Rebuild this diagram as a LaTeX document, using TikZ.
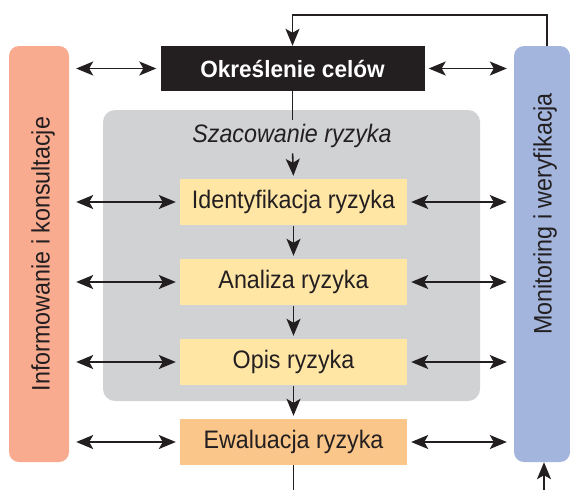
\documentclass[tikz,border=0pt]{standalone}
\usepackage{fontspec}
\setmainfont{Liberation Sans}[FakeStretch=0.92]
\newfontfamily\goalfont{Liberation Sans}[FakeStretch=0.96]
\usetikzlibrary{arrows.meta}

\definecolor{inkc}{HTML}{231F20}
\definecolor{pinkc}{HTML}{F8AB8F}
\definecolor{bluec}{HTML}{A3B5DC}
\definecolor{grayc}{HTML}{D1D2D4}
\definecolor{yellowc}{HTML}{FFE6A5}
\definecolor{orangec}{HTML}{FBC68A}

\newcommand\diagfont{\fontsize{25.3}{30}\selectfont}

\tikzset{
  sidebar/.style={draw=none, rounded corners=10pt, inner sep=0pt},
  stepbox/.style={fill=yellowc, draw=none, inner sep=0pt,
    minimum width=227pt, minimum height=46pt, text=inkc, font=\diagfont},
  goalbox/.style={fill=inkc, draw=none, inner sep=0pt,
    minimum width=264pt, minimum height=45pt, text=white,
    font=\goalfont\fontsize{23.5}{27}\selectfont\bfseries},
  barlabel/.style={rotate=90, text=inkc, font=\diagfont, inner sep=0pt},
  conn/.style={draw=inkc, line width=1.6pt},
  tip/.style={conn, -{Stealth[length=17pt,width=14pt,inset=4pt]}},
  twotip/.style={conn, {Stealth[length=17pt,width=14pt,inset=4pt]}-{Stealth[length=17pt,width=14pt,inset=4pt]}},
}

\begin{document}
\begin{tikzpicture}[x=1pt, y=-1pt]
\useasboundingbox (0,0) rectangle (570,490);

% side bars
\node[sidebar, fill=pinkc, minimum width=60pt, minimum height=416pt] (info) at (39,254) {};
\node[sidebar, fill=bluec, minimum width=56pt, minimum height=416pt] (mon) at (542,254) {};
\node[barlabel] (infolabel) at (43,254) {Informowanie i konsultacje};
\node[barlabel] (monlabel) at (545,214) {Monitoring i weryfikacja};

% risk assessment area
\fill[grayc, rounded corners=12pt] (103,110) rectangle (480,401);
\node[font=\diagfont\itshape, text=inkc, inner sep=3pt, anchor=base] (assess) at (292,142) {Szacowanie ryzyka};

% process steps
\node[goalbox] (goal) at (292.5,68.5) {Określenie celów};
\node[stepbox] (ident) at (293.5,202) {Identyfikacja ryzyka};
\node[stepbox] (anal) at (293.5,282) {Analiza ryzyka};
\node[stepbox] (desc) at (293.5,362) {Opis ryzyka};
\node[stepbox, fill=orangec] (evalr) at (293.5,442) {Ewaluacja ryzyka};

% main flow
\draw[conn] (goal.south) -- (goal.south |- assess.north);
\draw[tip, shorten <=3pt, shorten >=3pt] (goal.south |- assess.south) -- (ident.north);
\draw[tip, shorten <=1pt, shorten >=3pt] (ident.south) -- (anal.north);
\draw[tip, shorten <=1pt, shorten >=3pt] (anal.south) -- (desc.north);
\draw[tip, shorten <=1pt, shorten >=3pt] (desc.south) -- (evalr.north);
\coordinate (outflow) at (293.5,490);
\draw[conn] (evalr.south) -- (outflow);

% feedback loop from monitoring back to the objectives
\coordinate (loopR) at (547,15);
\coordinate (loopL) at (292.5,15);
\draw[tip] (mon.north -| loopR) -- (loopR) -- (loopL) -- (goal.north);
\coordinate (inflow) at (544,490);
\draw[tip] (inflow) -- (inflow |- mon.south);

% communication and monitoring links
\foreach \n in {goal, ident, anal, desc, evalr} {
  \draw[twotip, shorten <=7pt, shorten >=4pt] (info.east |- \n.west) -- (\n.west);
  \draw[twotip, shorten <=4pt, shorten >=7pt] (\n.east) -- (mon.west |- \n.east);
}
\end{tikzpicture}
\end{document}
